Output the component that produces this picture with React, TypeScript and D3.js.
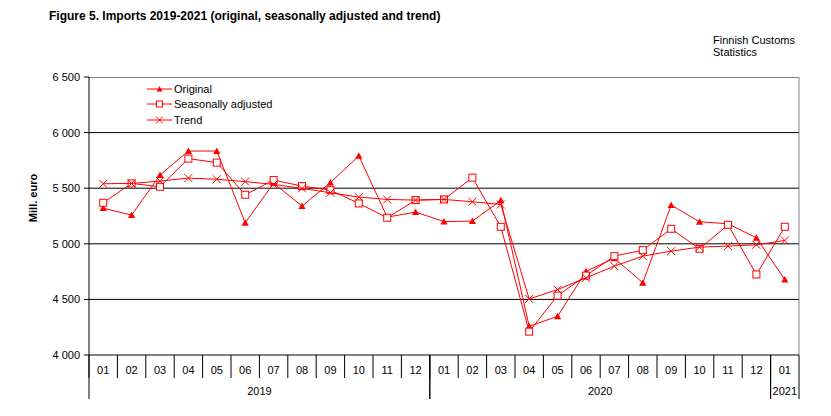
import React from 'react';
import * as d3 from 'd3';

const months = ['01', '02', '03', '04', '05', '06', '07', '08', '09', '10', '11', '12',
	'01', '02', '03', '04', '05', '06', '07', '08', '09', '10', '11', '12', '01'];
const years = [
	{ label: '2019', from: 0, to: 12 },
	{ label: '2020', from: 12, to: 24 },
	{ label: '2021', from: 24, to: 25 },
];
const original = [5320, 5258, 5618, 5834, 5834, 5189, 5545, 5339, 5550, 5790, 5240, 5285,
	5200, 5204, 5390, 4258, 4348, 4753, 4870, 4649, 5348, 5198, 5180, 5054, 4679];
const seasonal = [5369, 5543, 5513, 5766, 5730, 5441, 5573, 5519, 5483, 5363, 5234, 5393,
	5399, 5595, 5153, 4210, 4534, 4714, 4889, 4943, 5135, 4955, 5171, 4724, 5153];
const trend = [5540, 5543, 5564, 5591, 5580, 5559, 5534, 5498, 5459, 5420, 5399, 5393,
	5399, 5378, 5354, 4504, 4588, 4694, 4799, 4889, 4934, 4970, 4979, 4991, 5030];
const yTicks = [4000, 4500, 5000, 5500, 6000, 6500];

const red = '#ff0000';
const font = '"Liberation Sans", Arial, sans-serif';

// plot box inside the 831x416 frame
const left = 89;
const right = 799;
const top = 77;
const bottom = 355;

const App: React.FC = () => {
	const x = d3.scaleBand<number>().domain(d3.range(months.length)).range([left, right]);
	const y = d3.scaleLinear().domain([4000, 6500]).range([bottom, top]);
	const cx = (i: number) => (x(i) as number) + x.bandwidth() / 2;
	const fmt = (v: number) => d3.format(',')(v).replace(',', ' ');

	const line = d3.line<number>().x((d, i) => cx(i)).y((d) => y(d));

	const triangle = (px: number, py: number, s: number) =>
		`M${px},${py - s}L${px + s},${py + s * 0.8}L${px - s},${py + s * 0.8}Z`;
	const square = (px: number, py: number, s: number) =>
		<rect x={px - s} y={py - s} width={s * 2} height={s * 2} fill="#fff" stroke={red} strokeWidth={1} />;
	const cross = (px: number, py: number, s: number) =>
		<path d={`M${px - s},${py - s}L${px + s},${py + s}M${px + s},${py - s}L${px - s},${py + s}`} stroke={red} strokeWidth={1} />;

	const legendRows = [
		{ name: 'Original', kind: 'tri', y: 89 },
		{ name: 'Seasonally adjusted', kind: 'sq', y: 104 },
		{ name: 'Trend', kind: 'x', y: 120 },
	];

	return (
		<svg width={831} height={416} style={{ position: 'absolute', left: 0, top: 0, background: '#fff' }} fontFamily={font}>
			<text x={49} y={20} fontSize={12} fontWeight="bold">Figure  5. Imports 2019-2021 (original, seasonally adjusted and trend)</text>
			<text x={713} y={44} fontSize={11}>Finnish Customs</text>
			<text x={713} y={56} fontSize={11}>Statistics</text>

			{/* grid */}
			{yTicks.slice(1, -1).map((t) => (
				<line key={t} x1={left} x2={right} y1={y(t)} y2={y(t)} stroke="#000" strokeWidth={1} />
			))}
			<line x1={left} x2={right} y1={top + 0.5} y2={top + 0.5} stroke="#808080" />
			<line x1={right} x2={right} y1={top} y2={bottom} stroke="#808080" />

			{/* y axis */}
			<line x1={left} x2={left} y1={top} y2={bottom} stroke="#000" />
			{yTicks.map((t) => (
				<g key={t}>
					<line x1={left - 5} x2={left} y1={y(t)} y2={y(t)} stroke="#000" />
					<text x={80} y={y(t) + 4} fontSize={11} textAnchor="end">{fmt(t)}</text>
				</g>
			))}
			<text transform={`translate(37,198) rotate(-90)`} fontSize={11} fontWeight="bold" textAnchor="middle">Mill. euro</text>

			{/* x axis */}
			<line x1={left} x2={right} y1={bottom} y2={bottom} stroke="#000" />
			{months.map((m, i) => (
				<g key={i}>
					<line x1={x(i) as number} x2={x(i) as number} y1={bottom} y2={378} stroke="#000" />
					<text x={cx(i)} y={374} fontSize={11} textAnchor="middle">{m}</text>
				</g>
			))}
			{years.map((yr) => {
				const x0 = x(yr.from) as number;
				const x1 = yr.to < months.length ? (x(yr.to) as number) : right;
				return (
					<g key={yr.label}>
						<line x1={x0} x2={x0} y1={bottom} y2={399} stroke="#000" />
						<line x1={x1} x2={x1} y1={bottom} y2={399} stroke="#000" />
						<text x={(x0 + x1) / 2} y={395} fontSize={11} textAnchor="middle">{yr.label}</text>
					</g>
				);
			})}

			{/* series */}
			<path d={line(original) as string} fill="none" stroke={red} strokeWidth={1} />
			{original.map((v, i) => <path key={i} d={triangle(cx(i), y(v), 3.6)} fill={red} />)}
			<path d={line(seasonal) as string} fill="none" stroke={red} strokeWidth={1} />
			{seasonal.map((v, i) => <g key={i}>{square(cx(i), y(v), 3.5)}</g>)}
			<path d={line(trend) as string} fill="none" stroke={red} strokeWidth={1} />
			{trend.map((v, i) => <g key={i}>{cross(cx(i), y(v), 4)}</g>)}

			{/* legend */}
			{legendRows.map((r) => (
				<g key={r.name}>
					<line x1={147} x2={172} y1={r.y} y2={r.y} stroke={red} />
					{r.kind === 'tri' && <path d={triangle(159.5, r.y, 3)} fill={red} />}
					{r.kind === 'sq' && square(159.5, r.y, 3)}
					{r.kind === 'x' && cross(159.5, r.y, 3.5)}
					<text x={174} y={r.y + 4} fontSize={11}>{r.name}</text>
				</g>
			))}
		</svg>
	);
};

export default App;
